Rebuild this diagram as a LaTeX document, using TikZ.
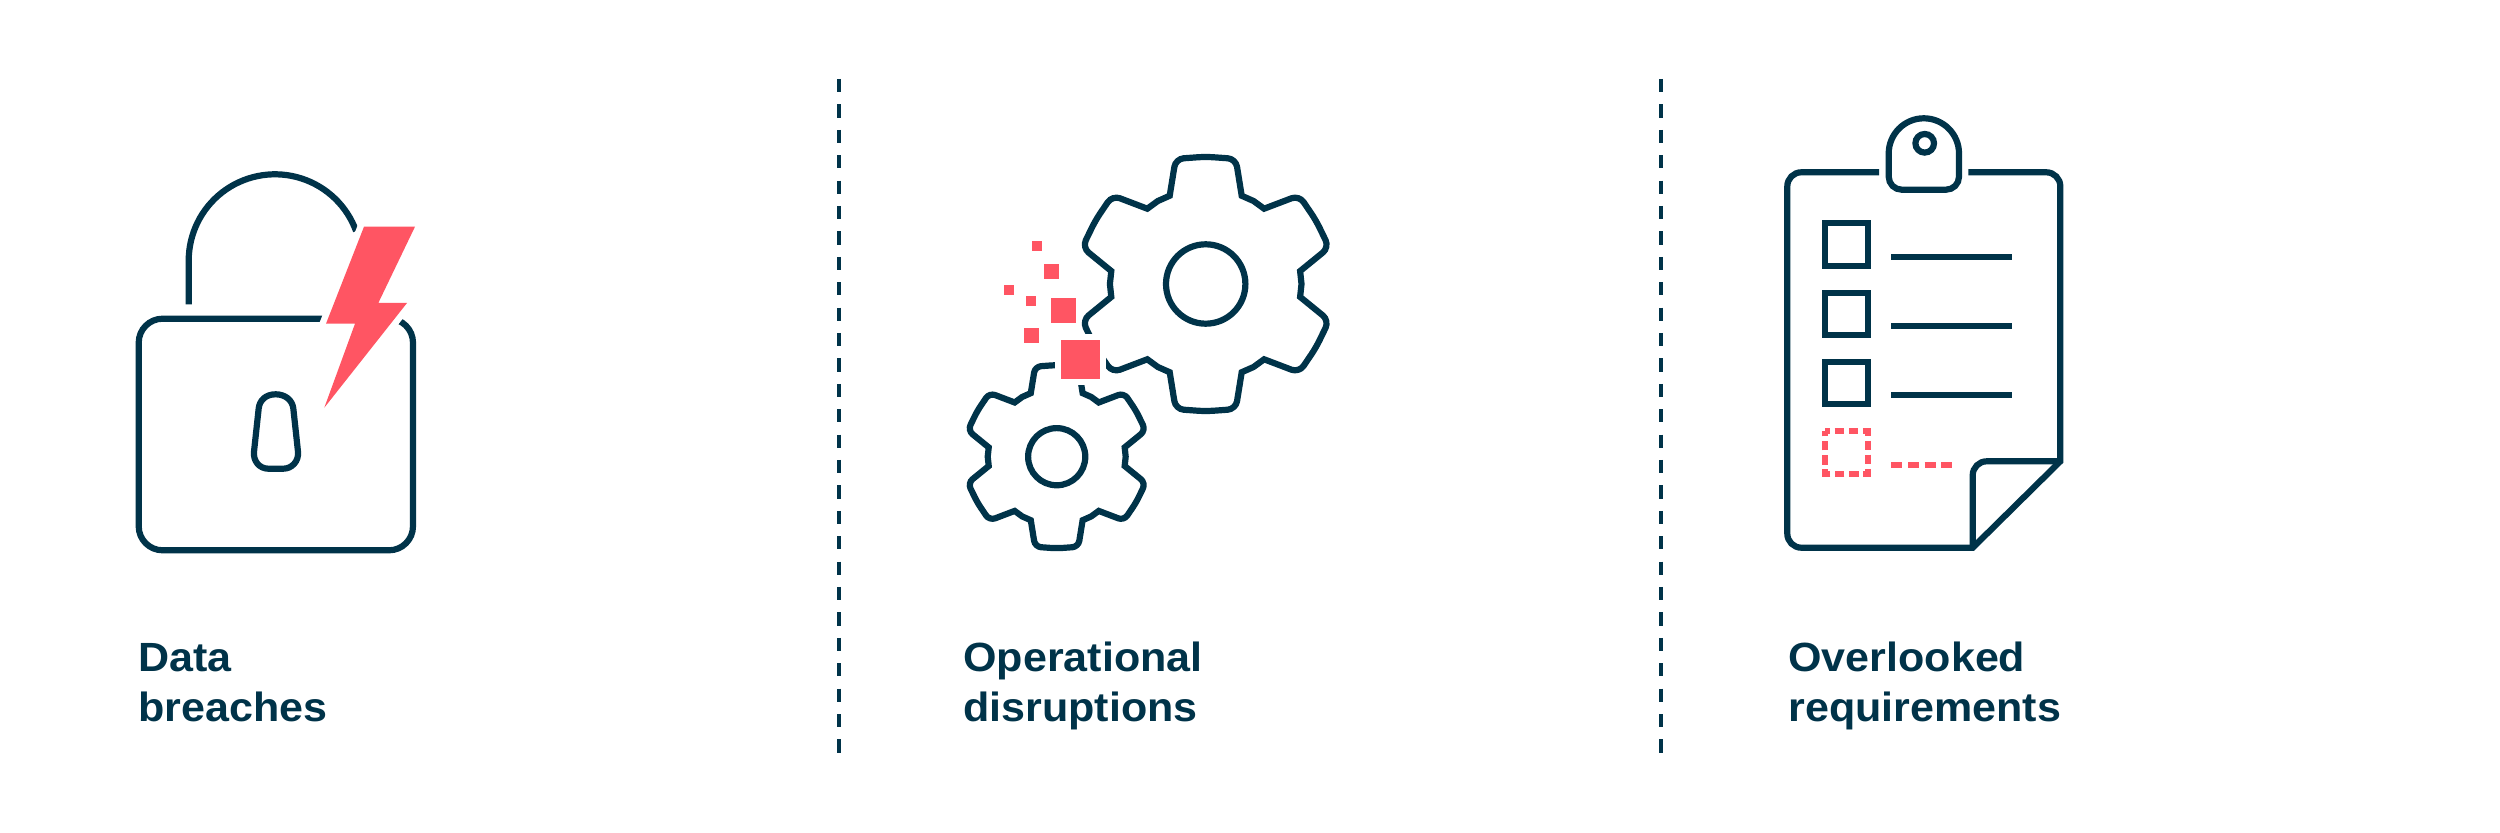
\documentclass[tikz,border=0pt]{standalone}
\usepackage{fontspec}
\setmainfont{Liberation Sans}[BoldFeatures={FakeStretch=1.055}]
\definecolor{ink}{HTML}{003349}
\definecolor{coral}{HTML}{FF5563}
\tikzset{
  inkline/.style={draw=ink,line width=3.1pt},
  coralfill/.style={fill=coral,draw=none},
  sepline/.style={draw=ink,line width=1.75pt,dash pattern=on 6.65pt off 6.05pt},
  label/.style={font=\fontsize{20.4}{25}\selectfont\bfseries,text=ink,anchor=base west,inner sep=0pt,align=left},
  tooth/.style={insert path={
    [sharp corners] -- (#1-22.2:95.3) [rounded corners=\gearrad] -- (#1-13.5:128.7) -- (#1:127.3) -- (#1+13.5:128.7) [sharp corners] -- (#1+22.2:95.3) -- (#1+30:95.8)}},
  gearoutline/.style={insert path={
    (60:95.8) [tooth=90,tooth=150,tooth=210,tooth=270,tooth=330,tooth=390] -- cycle}}
}
\begin{document}
\begin{tikzpicture}[x=0.5pt,y=-0.5pt]
\fill[white] (0,0) rectangle (2500,833);
\useasboundingbox (0,0) rectangle (2500,833);
% separators
\draw[sepline] (839,79) -- (839,753);
\draw[sepline] (1661,79) -- (1661,753);
% lock
\draw[inkline,rounded corners=12pt] (138.7,318.7) rectangle (413,550.3);
\draw[inkline] (188.7,304.3) -- plot[domain=180:20,samples=50] ({275+86.3*cos(\x)},{260.6-86.3*sin(\x)});
\draw[inkline] (258.7,408.3) .. controls (259.7,400) and (266,394.3) .. (275.7,394.3) .. controls (285,394.3) and (292.3,400) .. (293.3,408.3) -- (298,451.7) .. controls (299,461) and (292,468.7) .. (283.3,468.7) -- (268.3,468.7) .. controls (259.5,468.7) and (253,461) .. (254,451.7) -- cycle;
\filldraw[fill=coral,draw=white,line width=6.4pt,miter limit=3] (364,226.7) -- (415,226.7) -- (378.3,303) -- (407,303) -- (324.3,407.7) -- (355,323.7) -- (326,323.7) -- cycle;
\fill[coral] (364,226.7) -- (415,226.7) -- (378.3,303) -- (407,303) -- (324.3,407.7) -- (355,323.7) -- (326,323.7) -- cycle;
% gears
\def\gearrad{4pt}
\begin{scope}[shift={(1205.7,284)}]
  \draw[inkline,gearoutline];
  \draw[inkline] (0,0) circle[radius=39.7];
\end{scope}
\def\gearrad{3pt}
\begin{scope}[shift={(1056.7,456.7)},scale=0.72]
  \draw[inkline,gearoutline];
  \draw[inkline] (0,0) circle[radius=39.7];
\end{scope}
% debris squares
\fill[white] (1055.1,334.1) rectangle (1106.2,385.2);
\fill[coral] (1061.3,340.3) rectangle (1100,379);
\fill[coral] (1051,298) rectangle (1076,323);
\fill[coral] (1043.7,264) rectangle (1058.7,278.7);
\fill[coral] (1023.7,328) rectangle (1038.7,343);
\fill[coral] (1032.3,241.3) rectangle (1042.3,251.3);
\fill[coral] (1003.7,284.7) rectangle (1013.7,294.7);
\fill[coral] (1026,295.7) rectangle (1036,305.7);
% clipboard
\draw[inkline] (1879,172.3) [rounded corners=7pt] -- (1787.3,172.3) -- (1787.3,547.7) [sharp corners] -- (1972.7,547.7) -- (2060.3,461.3) [rounded corners=7pt] -- (2060.3,172.3) -- (1968.3,172.3);
\draw[inkline] (2060.3,461.3) [rounded corners=7pt] -- (1972.7,461.3) [sharp corners] -- (1972.7,547.7);
\draw[inkline] (1888.7,153.5) .. controls (1888.7,134) and (1904.5,118.3) .. (1923.8,118.3) .. controls (1943.2,118.3) and (1959,134) .. (1959,153.5) [rounded corners=6.5pt] -- (1959,189.7) -- (1888.7,189.7) [sharp corners] -- cycle;
\draw[inkline] (1924.7,143.3) circle[radius=9.3];
\draw[inkline] (1825.3,223.3) rectangle (1867.7,265.7);
\draw[inkline] (1825.3,292.7) rectangle (1867.7,335);
\draw[inkline] (1825.3,362) rectangle (1867.7,404.3);
\draw[draw=coral,line width=3.1pt,dash pattern=on 4.7pt off 2.35pt,dash phase=2.35pt] (1825.3,431.3) -- (1867.7,431.3) -- (1867.7,473.7) -- (1825.3,473.7) -- cycle;
\draw[inkline] (1891.3,256.7) -- (2011.7,256.7);
\draw[inkline] (1891.3,326) -- (2011.7,326);
\draw[inkline] (1891.3,395.3) -- (2011.7,395.3);
\draw[draw=coral,line width=3.1pt,dash pattern=on 5.5pt off 2.85pt] (1891.3,465) -- (1952.7,465);
% labels
\node[label] (lab1) at (138,721.7) {Data\\breaches};
\node[label] (lab2) at (963,721.7) {Operational\\disruptions};
\node[label] (lab3) at (1788,721.7) {Overlooked\\requirements};
\end{tikzpicture}
\end{document}
